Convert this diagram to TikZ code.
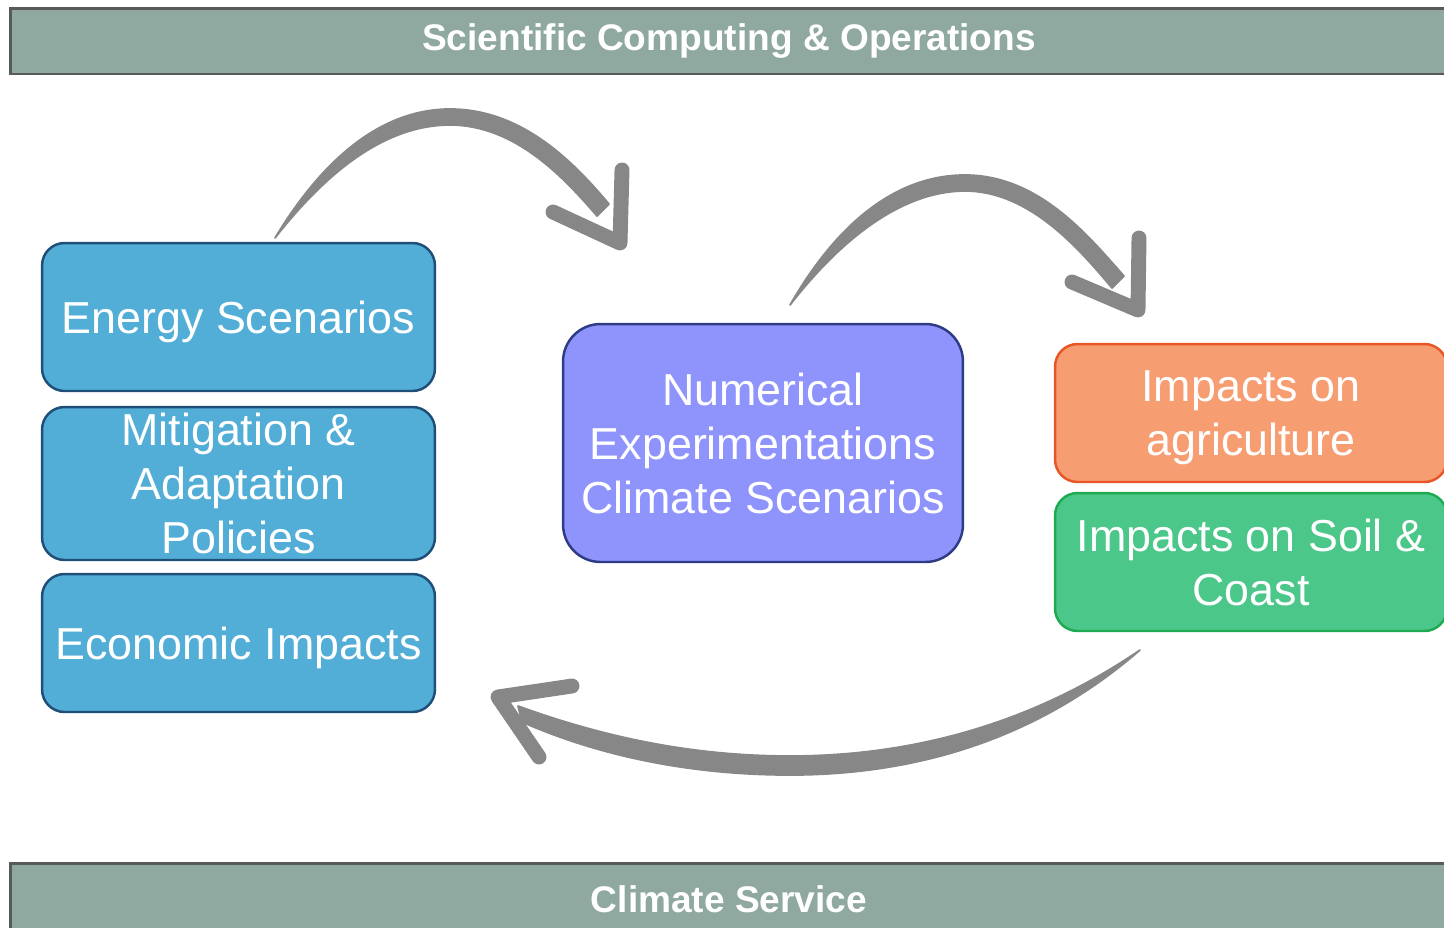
\documentclass[tikz,border=0pt]{standalone}
\usepackage{fontspec}
\setmainfont{Liberation Sans}
\definecolor{barfill}{HTML}{8FA8A0}
\definecolor{barline}{HTML}{58595B}
\definecolor{bluefill}{HTML}{52AED6}
\definecolor{blueline}{HTML}{1F4E79}
\definecolor{violetfill}{HTML}{8F94FC}
\definecolor{violetline}{HTML}{2E3B85}
\definecolor{orangefill}{HTML}{F79D72}
\definecolor{orangeline}{HTML}{E85628}
\definecolor{greenfill}{HTML}{4CC78A}
\definecolor{greenline}{HTML}{1EAA50}
\definecolor{brushgray}{HTML}{878787}

\begin{document}
\begin{tikzpicture}[%
  x=0.02cm, y=-0.02cm,
  box/.style={rectangle, rounded corners=0.45cm, draw, line width=1.4pt, text=white,
    align=center, inner sep=0pt, minimum width=7.86cm, text depth=0pt,
    font=\fontsize{25.5}{30.6}\selectfont},
  bar/.style={rectangle, draw=barline, fill=barfill, line width=1.7pt, text=white,
    inner sep=0pt, minimum width=28.76cm, font=\bfseries\fontsize{21.1}{25}\selectfont},
  brush/.style={fill=brushgray, draw=brushgray, line width=1pt, line join=round},
  tip/.style={draw=brushgray, line width=8.5pt, line cap=round, line join=round},]
  \clip (0,0) rectangle (1444,927);
  % bars
  \node[bar, minimum height=1.32cm] (sco) at (729,41) {Scientific Computing \& Operations};
  \node[bar, minimum height=1.44cm] (cs) at (729,899) {Climate Service};
  % left column
  \node[box, fill=bluefill, draw=blueline, minimum height=2.96cm] (energy) at (238.5,317) {Energy Scenarios};
  \node[box, fill=bluefill, draw=blueline, minimum height=3.06cm] (policies) at (238.5,483.5) {Mitigation \&\\Adaptation\\Policies};
  \node[box, fill=bluefill, draw=blueline, minimum height=2.76cm] (econ) at (238.5,643) {Economic Impacts};
  % middle
  \node[box, fill=violetfill, draw=violetline, minimum width=8cm, minimum height=4.76cm,
    rounded corners=0.75cm] (numexp) at (763,443) {Numerical\\Experimentations\\Climate Scenarios};
  % right column
  \node[box, fill=orangefill, draw=orangeline, minimum width=7.84cm, minimum height=2.76cm] (agri) at (1251,413) {Impacts on\\agriculture};
  \node[box, fill=greenfill, draw=greenline, minimum width=7.84cm, minimum height=2.76cm] (soil) at (1251,562) {Impacts on Soil \&\\Coast};
  % brush arrows
  \coordinate (a1tail) at (275,238);
  \coordinate (a1tip) at (620,243);
  \fill[brush] (a1tail) .. controls (328,150) and (388,109) .. (450,109)
    .. controls (524,109) and (576,165) .. (609,204) -- (597,216)
    .. controls (565,179) and (516,125) .. (450,125)
    .. controls (394,125) and (336,160) .. (a1tail) -- cycle;
  \draw[tip] (553,212) -- (a1tip) -- (622,170);
  \coordinate (a2tail) at (790,305);
  \coordinate (a2tip) at (1138,310);
  \fill[brush] (a2tail) .. controls (840,218) and (900,175) .. (965,175)
    .. controls (1040,175) and (1090,238) .. (1124,276) -- (1112,288)
    .. controls (1080,250) and (1030,191) .. (965,191)
    .. controls (910,191) and (850,228) .. (a2tail) -- cycle;
  \draw[tip] (1072,282) -- (a2tip) -- (1139,238);
  \coordinate (a3tail) at (1140,650);
  \coordinate (a3tip) at (498,697);
  \fill[brush] (a3tail) .. controls (1040,737) and (920,775) .. (790,775)
    .. controls (680,775) and (590,752) .. (522,722) -- (518,706)
    .. controls (590,732) and (680,756) .. (790,756)
    .. controls (910,756) and (1030,725) .. (a3tail) -- cycle;
  \draw[tip] (572,686) -- (a3tip) -- (539,757);
\end{tikzpicture}
\end{document}
